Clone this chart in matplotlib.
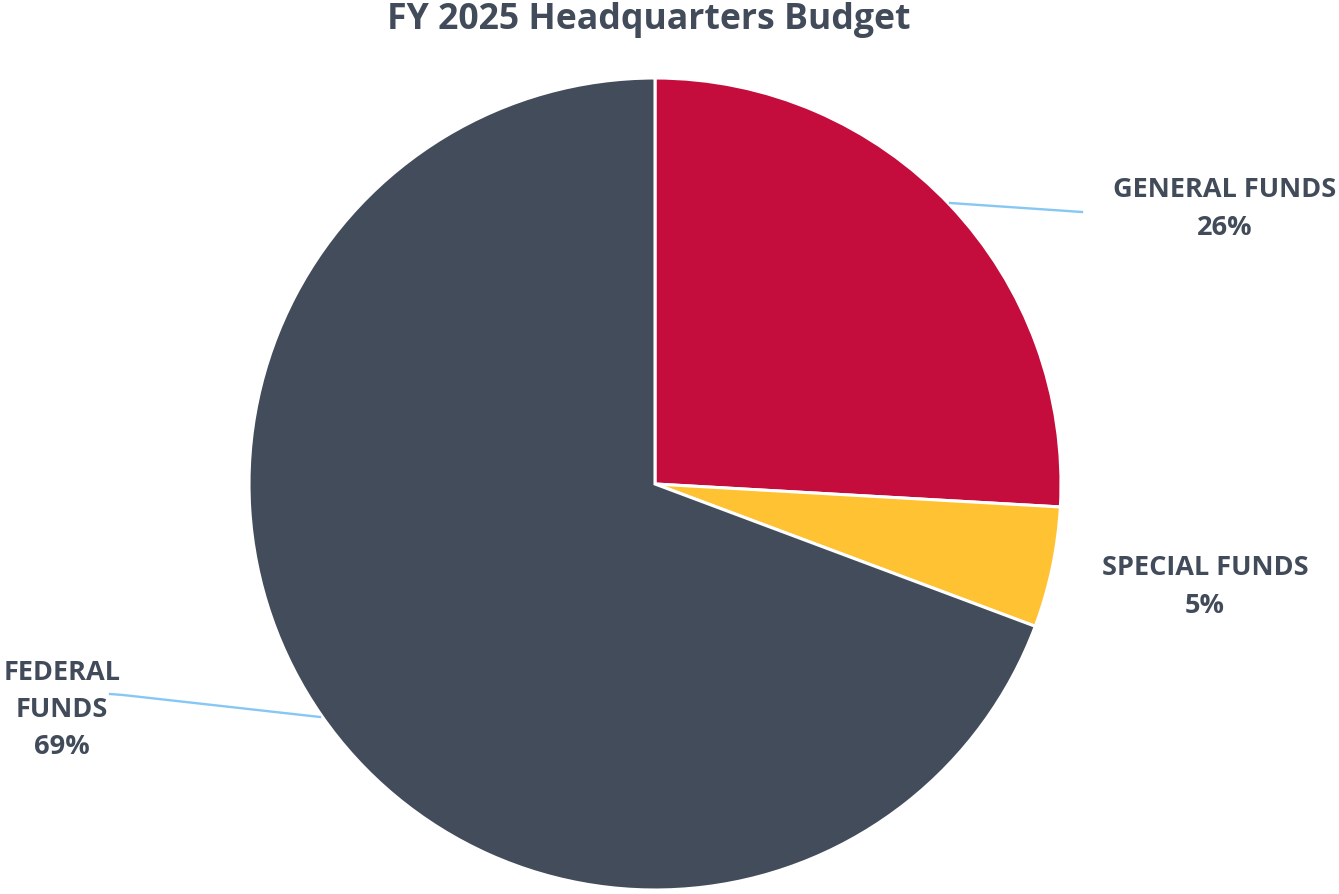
import matplotlib.pyplot as plt

# budget shares
categories = ['GENERAL FUNDS', 'SPECIAL FUNDS', 'FEDERAL\nFUNDS']
shares = [25.9, 4.8, 69.3]
colors = ['#C40D3C', '#FFC232', '#434C5B']

txt_color = '#414B5A'
line_color = '#86C7F4'
plt.rcParams['font.family'] = ['Open Sans', 'DejaVu Sans']

W, H = 1339, 894
fig = plt.figure(figsize=(W / 100, H / 100), dpi=100)
ax = fig.add_axes([0, 0, 1, 1])

cx, cy, r = 655, H - 484, 406
ax.pie(shares, colors=colors, startangle=90, counterclock=False,
       center=(cx, cy), radius=r, frame=True,
       wedgeprops=dict(edgecolor='white', linewidth=2.2))
ax.set_xlim(0, W)
ax.set_ylim(0, H)
ax.set_aspect('equal')
ax.axis('off')

# labels
label_pos = [(1225, H - 209), (1205, H - 587), (62, H - 710)]
for name, val, (x, y) in zip(categories, shares, label_pos):
    ax.text(x, y, f'{name}\n{round(val)}%', ha='center', va='center',
            fontsize=19.5, fontweight='bold', color=txt_color, linespacing=1.57)

# leader lines
ax.plot([950, 1082], [H - 203, H - 212], color=line_color, lw=1.7)
ax.plot([320, 123, 110], [H - 717, H - 695, H - 694], color=line_color, lw=1.7)

fig.text(0.4845, 1 - 20 / H, 'FY 2025 Headquarters Budget', ha='center', va='center',
         fontsize=25.7, fontweight='bold', color=txt_color)

fig.savefig('out.png', dpi=100)
